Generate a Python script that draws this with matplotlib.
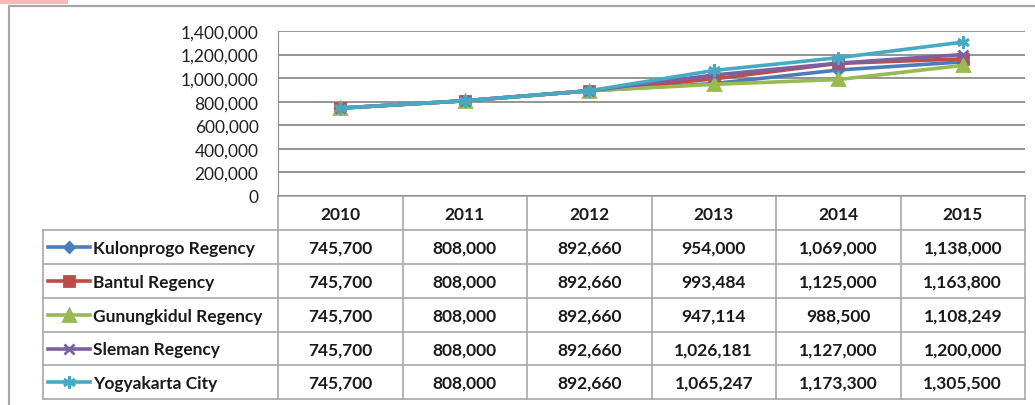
import matplotlib
matplotlib.use("Agg")
import matplotlib.pyplot as plt
from matplotlib.patches import Rectangle
from matplotlib.ticker import FuncFormatter

years = ["2010", "2011", "2012", "2013", "2014", "2015"]
regions = ["Kulonprogo Regency", "Bantul Regency", "Gunungkidul Regency",
           "Sleman Regency", "Yogyakarta City"]
kulonprogo = [745700, 808000, 892660, 954000, 1069000, 1138000]
bantul = [745700, 808000, 892660, 993484, 1125000, 1163800]
gunungkidul = [745700, 808000, 892660, 947114, 988500, 1108249]
sleman = [745700, 808000, 892660, 1026181, 1127000, 1200000]
yogyakarta = [745700, 808000, 892660, 1065247, 1173300, 1305500]
series = [kulonprogo, bantul, gunungkidul, sleman, yogyakarta]

colors = ["#4A7EBB", "#BE4B48", "#98B954", "#7D60A0", "#46AAC5"]
markers = ["D", "s", "^", "x", (6, 2, 0)]
msizes = [5.5, 7.5, 8, 7.5, 9]

FONT = "Lato"
INK = "#1a1a1a"
W, H = 1035, 406
# layout in pixels
PL, PR, PT, PB = 278, 1025, 32, 197   # plot area
TL = 43                                # table left edge
ROW_Y = [231, 265, 299, 333, 366, 400]  # row boundaries below the header

fig = plt.figure(figsize=(W / 100, H / 100), dpi=100)
fig.patch.set_facecolor("white")

# pixel-space overlay for frame and data table
bg = fig.add_axes([0, 0, 1, 1])
bg.set_xlim(0, W); bg.set_ylim(H, 0); bg.axis("off")
bg.add_patch(Rectangle((0, 0), 68, 5, fc="#F6B9B9", ec="none"))
bg.plot([9, 9, W], [H, 7, 7], color="#A6A6A6", lw=1.6, solid_joinstyle="miter")

ax = fig.add_axes([PL / W, 1 - PB / H, (PR - PL) / W, (PB - PT) / H])
x = list(range(len(years)))
for vals, c, m, ms in zip(series, colors, markers, msizes):
    ax.plot(x, vals, color=c, lw=2.6, marker=m, ms=ms, mfc=c, mec=c, mew=2, zorder=3)
ax.set_xlim(-0.5, len(years) - 0.5)
ax.set_ylim(0, 1400000)
ax.set_yticks(range(0, 1400001, 200000))
ax.yaxis.set_major_formatter(FuncFormatter(lambda v, p: f"{int(v):,}"))
ax.tick_params(axis="y", length=0, pad=14, labelsize=12.5, labelcolor="#222222")
ax.tick_params(axis="x", length=0, labelbottom=False)
for lab in ax.get_yticklabels():
    lab.set_fontfamily(FONT)
ax.grid(axis="y", color="#8C8C8C", lw=1.3)
for s in ["top", "right", "bottom"]:
    ax.spines[s].set_visible(False)
ax.spines["left"].set_color("#8C8C8C")
ax.patch.set_alpha(0)

# data table under the plot
col_w = (PR - PL) / len(years)
col_x = [PL + i * col_w for i in range(len(years) + 1)]
grid = "#A8A8A8"
bg.plot([PL, PR], [PB, PB], color=grid, lw=1.2)
for y in ROW_Y:
    bg.plot([TL, PR], [y, y], color=grid, lw=1.2)
for cx in col_x:
    bg.plot([cx, cx], [PB, ROW_Y[-1]], color=grid, lw=1.2)
bg.plot([TL, TL], [ROW_Y[0], ROW_Y[-1]], color=grid, lw=1.2)

for i, yr in enumerate(years):
    bg.text(col_x[i] + col_w / 2, (PB + ROW_Y[0]) / 2 + 1, yr, ha="center", va="center",
            fontsize=12.5, fontweight="bold", family=FONT, color=INK)

for r, (name, vals, c, m, ms) in enumerate(zip(regions, series, colors, markers, msizes)):
    yc = (ROW_Y[r] + ROW_Y[r + 1]) / 2
    bg.plot([48, 90], [yc, yc], color=c, lw=2.6)
    bg.plot([69], [yc], marker=m, ms=ms, color=c, mew=2)
    bg.text(93, yc + 1, name, ha="left", va="center", fontsize=12.5,
            fontweight="bold", family=FONT, color=INK)
    for i, v in enumerate(vals):
        bg.text(col_x[i] + col_w / 2, yc + 1, f"{v:,}", ha="center", va="center",
                fontsize=12.5, fontweight="bold", family=FONT, color=INK)

fig.savefig("out.png", dpi=100)
